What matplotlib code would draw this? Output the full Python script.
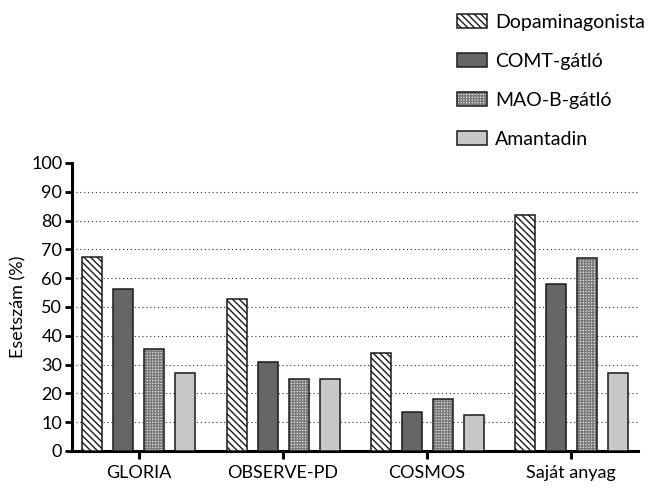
import matplotlib
matplotlib.use("Agg")
import matplotlib.pyplot as plt
from matplotlib.patches import Patch
import numpy as np

plt.rcParams["font.family"] = ["Lato", "DejaVu Sans"]
plt.rcParams["hatch.linewidth"] = 1.0

categories = ["GLORIA", "OBSERVE-PD", "COSMOS", "Saját anyag"]
series_names = ["Dopaminagonista", "COMT-gátló", "MAO-B-gátló", "Amantadin"]
dopamin = [67.4, 52.8, 34.0, 81.8]
comt = [56.3, 30.9, 13.5, 57.8]
maob = [35.4, 25.0, 18.0, 67.0]
amantadin = [27.1, 25.0, 12.5, 27.0]

EDGE = "#1a1a1a"
# (face, hatch, hatch colour)
styles = [
    ("white", "\\\\\\\\\\", EDGE),
    ("#666666", None, None),
    ("#e4e4e4", "++++++", "#7a7a7a"),
    ("#c8c8c8", None, None),
]

fig = plt.figure(figsize=(6.48, 4.88), dpi=100)
ax = fig.add_axes([0.111, 0.076, 0.874, 0.590])

x = np.arange(len(categories))
step = 0.215
width = 0.139
handles = []
for i, (vals, (face, hatch, hcol)) in enumerate(zip([dopamin, comt, maob, amantadin], styles)):
    pos = x + (i - 1.5) * step
    # fill + hatch (hatch colour comes from edgecolor), then the dark outline on top
    ax.bar(pos, vals, width, facecolor=face, edgecolor=hcol if hatch else face,
           hatch=hatch, linewidth=0, zorder=3)
    ax.bar(pos, vals, width, fill=False, edgecolor=EDGE, linewidth=1.1, zorder=4)
    fill = Patch(facecolor=face, edgecolor=hcol if hatch else face, hatch=hatch, linewidth=0)
    outline = Patch(fill=False, edgecolor=EDGE, linewidth=1.1)
    handles.append((fill, outline))

for yv in range(10, 100, 10):
    ax.axhline(yv, color="#333333", linestyle=(0, (1, 2.5)), linewidth=0.8, zorder=1)

ax.set_xlim(-0.465, 3.465)
ax.set_ylim(0, 100)
ax.set_yticks(range(0, 101, 10))
ax.set_xticks(x)
ax.set_xticklabels(categories, fontsize=13)
ax.tick_params(axis="y", labelsize=13, width=2.0, length=5, direction="out", pad=2)
ax.tick_params(axis="x", width=2.2, length=6, direction="out", pad=4)
ax.set_ylabel("Esetszám (%)", fontsize=13, labelpad=3)
for s in ["top", "right"]:
    ax.spines[s].set_visible(False)
for s in ["left", "bottom"]:
    ax.spines[s].set_linewidth(2.2)

fig.legend(handles, series_names, loc="upper left", bbox_to_anchor=(0.678, 1.008),
           frameon=False, fontsize=14, labelspacing=1.13, handlelength=1.55,
           handleheight=0.75, handletextpad=0.4)

fig.savefig("out.png", dpi=100)
